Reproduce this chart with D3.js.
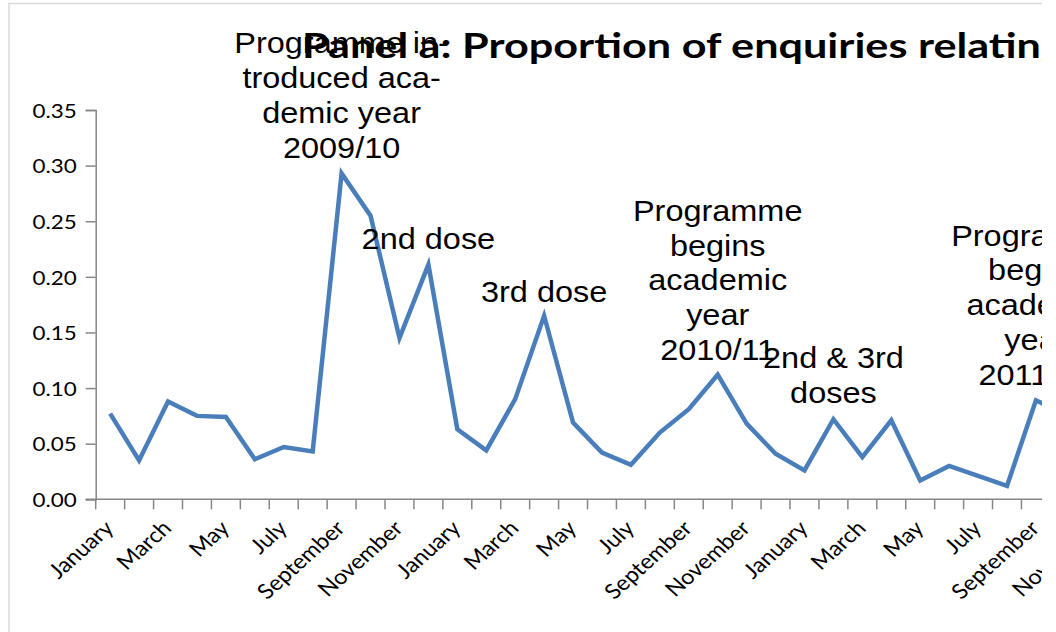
<!DOCTYPE html>
<html>
<head>
<meta charset="utf-8">
<script src="https://cdn.jsdelivr.net/npm/d3@7/dist/d3.min.js"></script>
<style>
    body { margin: 0; background: #fff; }
    svg { display: block; }
</style>
</head>
<body>
<svg id="chart"></svg>
<script>
// months on the category axis, Jan 2009 .. Dec 2011
const monthNames = ["January", "February", "March", "April", "May", "June",
    "July", "August", "September", "October", "November", "December"];
const categories = d3.range(36).map(i => monthNames[i % 12] + " " + (2009 + Math.floor(i / 12)));

// proportion of enquiries, Jan 2009 .. Oct 2011
const values2009 = [0.077, 0.035, 0.088, 0.075, 0.074, 0.036, 0.047, 0.043, 0.293, 0.255, 0.145, 0.211];
const values2010 = [0.063, 0.044, 0.090, 0.165, 0.069, 0.042, 0.031, 0.060, 0.081, 0.112, 0.068, 0.041];
const values2011 = [0.026, 0.072, 0.038, 0.071, 0.017, 0.030, 0.021, 0.012, 0.089, 0.076];
const proportion = values2009.concat(values2010, values2011);

const yTicks = [0, 0.05, 0.10, 0.15, 0.20, 0.25, 0.30, 0.35];

const title = "Panel a: Proportion of enquiries relating";

// text labels: category index, value of the last line's baseline, lines
const notes = [
    {cat: 8,  at: 0.307, lines: ["Programme in-", "troduced aca-", "demic year", "2009/10"]},
    {cat: 11, at: 0.225, lines: ["2nd dose"]},
    {cat: 15, at: 0.1775, lines: ["3rd dose"]},
    {cat: 21, at: 0.1253, lines: ["Programme", "begins", "academic", "year", "2010/11"]},
    {cat: 25, at: 0.0866, lines: ["2nd & 3rd", "doses"]},
    {cat: 32, at: 0.1029, lines: ["Programme", "begins", "academic", "year", "2011/12"]}
];

const W = 1056, H = 632;
const plot = {left: 95.7, top: 110, bottom: 499.3, step: 28.93};
const sx = 1.12;   // the picture is a bit wide, text glyphs too

const svg = d3.select("#chart").attr("width", W).attr("height", H);

svg.append("clipPath").attr("id", "cut")
    .append("rect").attr("x", 0).attr("y", 0).attr("width", 1042).attr("height", H);

const g = svg.append("g").attr("clip-path", "url(#cut)");

// chart border
g.append("rect")
    .attr("x", 9).attr("y", 3.5)
    .attr("width", 1200).attr("height", 800)
    .attr("fill", "none").attr("stroke", "#d9d9d9").attr("stroke-width", 1.5);

const x = d3.scaleBand()
    .domain(categories)
    .range([plot.left, plot.left + plot.step * categories.length]);

const y = d3.scaleLinear()
    .domain([0, 0.35])
    .range([plot.bottom, plot.top]);

const axisColor = "#868686";

// y axis
const yAxis = g.append("g")
    .attr("transform", `translate(${plot.left},0)`)
    .call(d3.axisLeft(y).tickValues(yTicks).tickSize(10).tickPadding(9).tickFormat(d3.format(".2f")));
yAxis.select(".domain").attr("stroke", axisColor).attr("stroke-width", 1.5);
yAxis.selectAll(".tick line").attr("stroke", axisColor).attr("stroke-width", 1.5);
yAxis.selectAll(".tick text")
    .attr("fill", "#000")
    .style("font-family", "Lato, sans-serif")
    .style("font-size", "20px")
    .attr("dy", "0.36em")
    .attr("transform", function() { return `translate(${-19},0) scale(${sx},1) translate(${19},0)`; });

// x axis line and ticks between categories
const xAxisG = g.append("g");
xAxisG.append("line")
    .attr("x1", plot.left - 10).attr("x2", x.range()[1])
    .attr("y1", plot.bottom).attr("y2", plot.bottom)
    .attr("stroke", axisColor).attr("stroke-width", 1.5);
xAxisG.selectAll(".xt")
    .data(categories)
    .join("line")
    .attr("class", "xt")
    .attr("x1", d => x(d)).attr("x2", d => x(d))
    .attr("y1", plot.bottom).attr("y2", plot.bottom + 10)
    .attr("stroke", axisColor).attr("stroke-width", 1.5);

// every second month is labelled
xAxisG.selectAll(".xl")
    .data(categories.filter((d, i) => i % 2 === 0))
    .join("text")
    .attr("class", "xl")
    .attr("text-anchor", "end")
    .attr("dy", "0.35em")
    .style("font-family", "Lato, sans-serif")
    .style("font-size", "21px")
    .attr("transform", d => `translate(${x(d) + x.bandwidth() / 2 - 1},${plot.bottom + 25}) scale(${sx},1) rotate(-45)`)
    .text(d => d.split(" ")[0]);

// the series
const line = d3.line()
    .x((d, i) => x(categories[i]) + x.bandwidth() / 2)
    .y(d => y(d));

g.append("path")
    .datum(proportion)
    .attr("fill", "none")
    .attr("stroke", "#4a7ebb")
    .attr("stroke-width", 4.5)
    .attr("stroke-linejoin", "miter")
    .attr("d", line);

// text labels above the peaks
const lineGap = 34.8;
notes.forEach(n => {
    const cx = x(categories[n.cat]) + x.bandwidth() / 2;
    const last = y(n.at);
    const t = g.append("text")
        .attr("text-anchor", "middle")
        .style("font-family", "'Liberation Sans', Arial, sans-serif")
        .style("font-size", "29px")
        .attr("transform", `translate(${cx},0) scale(${sx},1)`);
    n.lines.forEach((s, i) => {
        t.append("tspan")
            .attr("x", 0)
            .attr("y", last - (n.lines.length - 1 - i) * lineGap)
            .text(s);
    });
});

// title, drawn last so it sits on top
g.append("text")
    .attr("transform", `translate(302,58) scale(1.27,1)`)
    .style("font-family", "Lato, sans-serif")
    .style("font-weight", "bold")
    .style("font-size", "34px")
    .text(title);
</script>
</body>
</html>
